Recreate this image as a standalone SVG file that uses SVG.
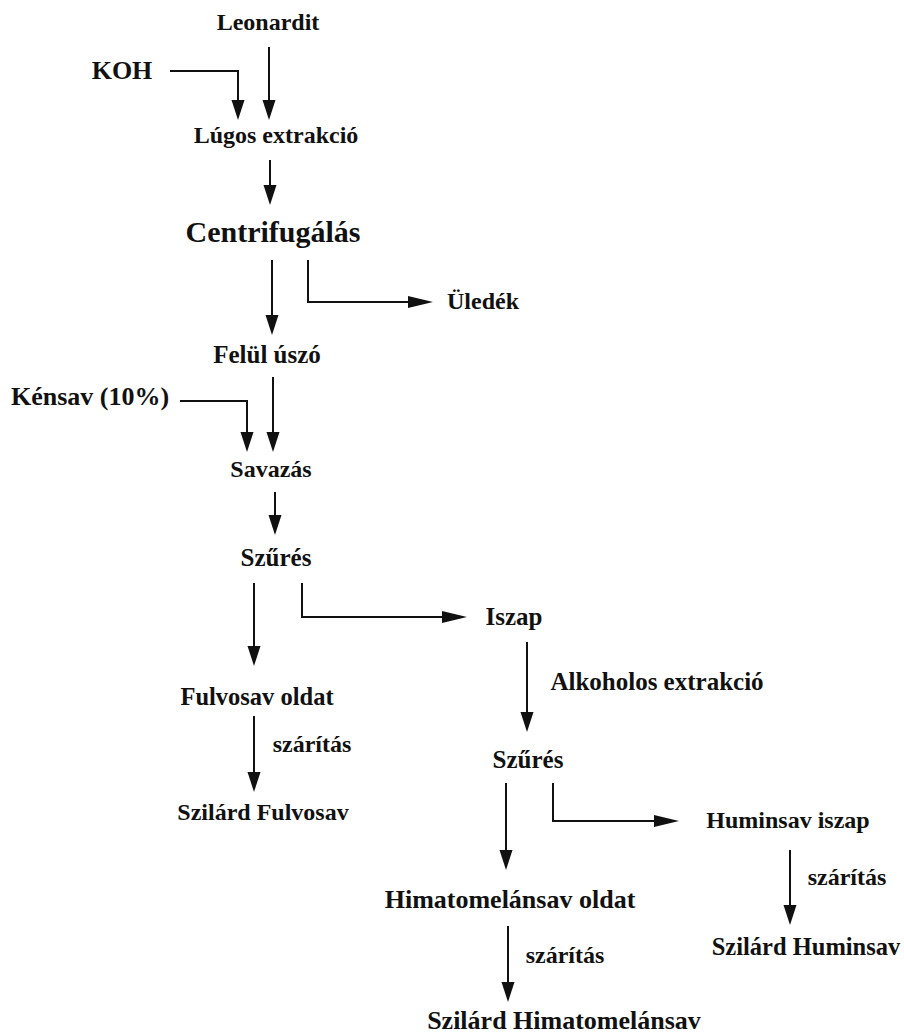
<svg xmlns="http://www.w3.org/2000/svg" width="904" height="1034" viewBox="0 0 904 1034">
<style>
text{font-family:"Liberation Serif","Times New Roman",serif;font-weight:bold;fill:#111;text-anchor:middle}
.c{fill:none;stroke:#111;stroke-width:2}
</style>
<defs>
<marker id="av" markerUnits="userSpaceOnUse" markerWidth="22" markerHeight="14" refX="16" refY="6.5" orient="auto"><path d="M0,0L20,6.5L0,13Z" fill="#111"/></marker>
<marker id="ah" markerUnits="userSpaceOnUse" markerWidth="27" markerHeight="14" refX="21" refY="6" orient="auto"><path d="M0,0L25,6L0,12Z" fill="#111"/></marker>
</defs>
<rect width="904" height="1034" fill="#fff"/>
<g id="n-leonardit"><text x="268" y="30" font-size="24">Leonardit</text></g>
<g id="n-koh"><text x="122" y="79" font-size="26">KOH</text></g>
<g id="n-lugos"><text x="276" y="143" font-size="24">Lúgos extrakció</text></g>
<g id="n-centri"><text x="273" y="242" font-size="30">Centrifugálás</text></g>
<g id="n-uledek"><text x="483" y="309" font-size="24">Üledék</text></g>
<g id="n-felul"><text x="267" y="363" font-size="25">Felül úszó</text></g>
<g id="n-kensav"><text x="90" y="405" font-size="26">Kénsav (10%)</text></g>
<g id="n-savazas"><text x="271" y="477" font-size="24">Savazás</text></g>
<g id="n-szures1"><text x="276" y="566" font-size="25">Szűrés</text></g>
<g id="n-iszap"><text x="514" y="625" font-size="25">Iszap</text></g>
<g id="n-alkoholos"><text x="657" y="690" font-size="25">Alkoholos extrakció</text></g>
<g id="n-fulvoldat"><text x="257" y="705" font-size="24.5">Fulvosav oldat</text></g>
<g id="n-szar1"><text x="312" y="752" font-size="24">szárítás</text></g>
<g id="n-szilfulv"><text x="263" y="820" font-size="24">Szilárd Fulvosav</text></g>
<g id="n-szures2"><text x="528" y="768" font-size="25">Szűrés</text></g>
<g id="n-huminiszap"><text x="788" y="828" font-size="24">Huminsav iszap</text></g>
<g id="n-szar3"><text x="847" y="885" font-size="24">szárítás</text></g>
<g id="n-szilhum"><text x="806" y="955" font-size="24.5">Szilárd Huminsav</text></g>
<g id="n-himoldat"><text x="510" y="908" font-size="26">Himatomelánsav oldat</text></g>
<g id="n-szar2"><text x="565" y="963" font-size="24">szárítás</text></g>
<g id="n-szilhim"><text x="564" y="1029" font-size="26">Szilárd Himatomelánsav</text></g>
<g id="connectors">
<path class="c" d="M170,71H238V116" marker-end="url(#av)"/>
<path class="c" d="M269,47V116" marker-end="url(#av)"/>
<path class="c" d="M270,160V201" marker-end="url(#av)"/>
<path class="c" d="M272,260V331" marker-end="url(#av)"/>
<path class="c" d="M308,260V302H429" marker-end="url(#ah)"/>
<path class="c" d="M180,401H247V448" marker-end="url(#av)"/>
<path class="c" d="M273,377V448" marker-end="url(#av)"/>
<path class="c" d="M275,492V531" marker-end="url(#av)"/>
<path class="c" d="M254,583V662" marker-end="url(#av)"/>
<path class="c" d="M302,583V617H463" marker-end="url(#ah)"/>
<path class="c" d="M527,642V728" marker-end="url(#av)"/>
<path class="c" d="M254,716V788" marker-end="url(#av)"/>
<path class="c" d="M506,783V866" marker-end="url(#av)"/>
<path class="c" d="M553,783V821H675" marker-end="url(#ah)"/>
<path class="c" d="M790,850V921" marker-end="url(#av)"/>
<path class="c" d="M508,926V998" marker-end="url(#av)"/>
</g>
</svg>
